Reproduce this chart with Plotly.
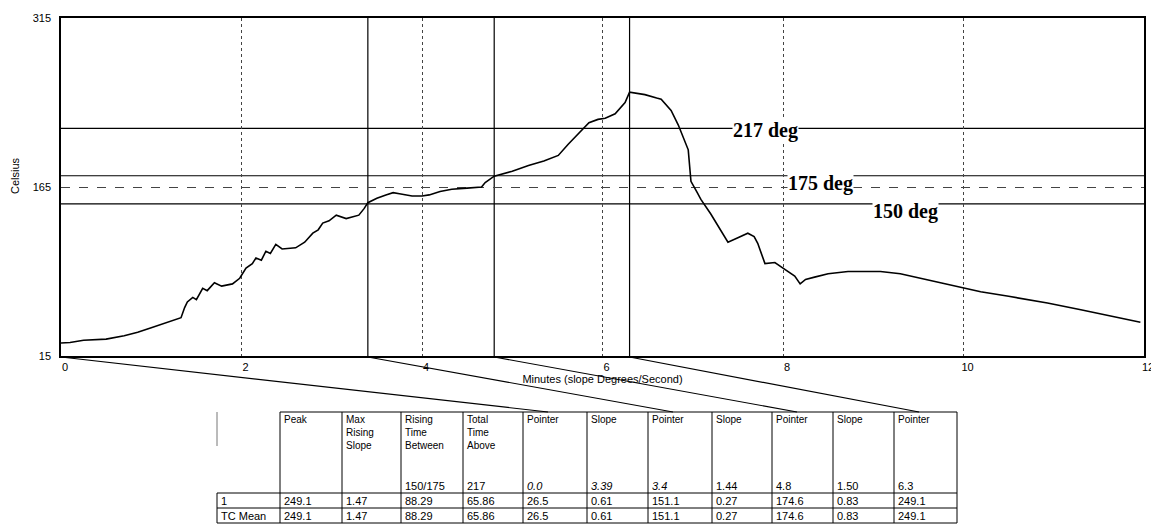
import plotly.graph_objects as go

# ---------------- data ----------------
minutes = [0.0, 0.1, 0.25, 0.5, 0.7, 0.85, 1.0, 1.15, 1.33, 1.37, 1.40, 1.46, 1.50, 1.57, 1.62,
           1.70, 1.78, 1.90, 1.98, 2.05, 2.12, 2.16, 2.22, 2.27, 2.32, 2.38, 2.45, 2.60, 2.70,
           2.79, 2.85, 2.90, 2.97, 3.05, 3.16, 3.30, 3.36, 3.40, 3.50, 3.60, 3.68, 3.75, 3.89,
           4.00, 4.08, 4.20, 4.33, 4.50, 4.66, 4.70, 4.80, 5.00, 5.18, 5.35, 5.51, 5.62, 5.73,
           5.85, 5.95, 6.03, 6.14, 6.25, 6.30, 6.47, 6.60, 6.65, 6.76, 6.84, 6.95, 6.98, 7.05,
           7.09, 7.20, 7.30, 7.39, 7.50, 7.61, 7.68, 7.72, 7.80, 7.91, 8.00, 8.13, 8.19, 8.25,
           8.35, 8.50, 8.72, 9.08, 9.30, 9.64, 10.00, 10.19, 10.50, 10.93, 11.30, 11.60, 11.96]
celsius = [26.5, 27, 29, 30, 33, 36, 40, 44, 49, 58, 63, 67, 65, 75, 73,
           80, 77, 79, 84, 93, 97, 102, 100, 108, 106, 114, 110, 111, 116,
           124, 127, 133, 135, 140, 137, 140, 146, 151.1, 155, 158, 160, 159, 157,
           157, 158, 161, 163, 164, 165, 169, 174.6, 179, 184, 188, 193, 203, 212,
           222, 225, 226, 230, 240, 249.1, 247, 244, 243, 233, 220, 198, 170, 160,
           154, 141, 128, 116, 120, 124, 121, 115, 97, 98, 93, 86, 79, 83,
           85, 88, 90, 90, 88, 82, 76, 72, 68, 62, 56, 51, 45]

threshold_values = [217, 175, 150]
threshold_labels = ["217 deg", "175 deg", "150 deg"]
threshold_label_x = [7.81, 8.42, 9.36]
threshold_label_y = [215.5, 168.5, 143.7]

pointer_minutes = [0.0, 3.4, 4.8, 6.3]

x_ticks = [0, 2, 4, 6, 8, 10, 12]
y_ticks = [15, 165, 315]

header_names = ["", "Peak", "Max<br>Rising<br>Slope", "Rising<br>Time<br>Between",
                "Total<br>Time<br>Above", "Pointer", "Slope", "Pointer", "Slope",
                "Pointer", "Slope", "Pointer"]
header_sub = ["", "", "", "150/175", "217", "<i>0.0</i>", "<i>3.39</i>", "<i>3.4</i>",
              "1.44", "4.8", "1.50", "6.3"]
row_labels = ["1", "TC Mean"]
row_1 = ["249.1", "1.47", "88.29", "65.86", "26.5", "0.61", "151.1", "0.27", "174.6", "0.83", "249.1"]
row_tc_mean = ["249.1", "1.47", "88.29", "65.86", "26.5", "0.61", "151.1", "0.27", "174.6", "0.83", "249.1"]
column_px = [63, 62, 59, 62, 60, 64, 61, 64, 60, 61, 61, 63]

# ---------------- layout (page pixels; the page body adds an 8px offset) ----------------
OFF = 8
W, H = 1159 - OFF, 524 - OFF


def pxx(px):
    return (px - OFF) / W


def pxy(py):
    return (H - (py - OFF)) / H


XD = [pxx(61), pxx(1144)]
YD = [pxy(356), pxy(18)]
X_RANGE = [0, 12]
Y_RANGE = [15, 315]
TABLE_LEFT, TABLE_TOP = 217, 412
ROW_EDGES = [412, 493, 508, 523]

fig = go.Figure()
fig.add_trace(go.Scatter(x=minutes, y=celsius, mode="lines",
                         line=dict(color="black", width=1.6), showlegend=False, hoverinfo="skip"))

shapes = []
for v in threshold_values:
    shapes.append(dict(type="line", xref="x", yref="y", x0=X_RANGE[0], x1=X_RANGE[1], y0=v, y1=v,
                       line=dict(color="black", width=1.2), layer="below"))
for m in pointer_minutes[1:]:
    shapes.append(dict(type="line", xref="x", yref="y", x0=m, x1=m, y0=Y_RANGE[0], y1=Y_RANGE[1],
                       line=dict(color="black", width=1.2), layer="below"))

col_edges = [TABLE_LEFT]
for w in column_px:
    col_edges.append(col_edges[-1] + w)

# connector lines from the pointer times on the axis to the table's pointer columns
pointer_cols = [i for i, n in enumerate(header_names) if n == "Pointer"]
for m, ci in zip(pointer_minutes, pointer_cols):
    x0 = XD[0] + (m - X_RANGE[0]) / (X_RANGE[1] - X_RANGE[0]) * (XD[1] - XD[0])
    shapes.append(dict(type="line", xref="paper", yref="paper", x0=x0, y0=YD[0] - 1 / H,
                       x1=pxx(col_edges[ci] + 25), y1=pxy(TABLE_TOP),
                       line=dict(color="black", width=1.2)))

# table grid
LW = dict(color="black", width=1)
shapes.append(dict(type="line", xref="paper", yref="paper", x0=pxx(col_edges[1]), x1=pxx(col_edges[-1]),
                   y0=pxy(ROW_EDGES[0]), y1=pxy(ROW_EDGES[0]), line=LW))
for ry in ROW_EDGES[1:]:
    shapes.append(dict(type="line", xref="paper", yref="paper", x0=pxx(col_edges[0]), x1=pxx(col_edges[-1]),
                       y0=pxy(ry), y1=pxy(ry), line=LW))
for i, cx in enumerate(col_edges):
    shapes.append(dict(type="line", xref="paper", yref="paper", x0=pxx(cx), x1=pxx(cx),
                       y0=pxy(ROW_EDGES[0] if i > 0 else ROW_EDGES[1]), y1=pxy(ROW_EDGES[-1]), line=LW))
shapes.append(dict(type="line", xref="paper", yref="paper", x0=pxx(col_edges[0]), x1=pxx(col_edges[0]),
                   y0=pxy(ROW_EDGES[0]), y1=pxy(ROW_EDGES[0] + 34), line=dict(color="#777", width=1)))

annotations = []
for lab, lx, ly in zip(threshold_labels, threshold_label_x, threshold_label_y):
    annotations.append(dict(x=lx, y=ly, xref="x", yref="y", text="<b>" + lab + "</b>", showarrow=False,
                            bgcolor="white", borderpad=0,
                            font=dict(family="Liberation Serif", size=20, color="black")))

annotations.append(dict(x=pxx(15), y=pxy(176), xref="paper", yref="paper", text="Celsius",
                        textangle=-90, showarrow=False, xanchor="center", yanchor="middle",
                        font=dict(family="Arial", size=11, color="black")))


def cell_text(txt, ci, py, size=11, yanchor="middle"):
    annotations.append(dict(x=pxx(col_edges[ci] + 3), y=pxy(py), xref="paper", yref="paper",
                            text=txt, showarrow=False, xanchor="left", yanchor=yanchor, align="left",
                            borderpad=0, font=dict(family="Arial", size=size, color="black")))


for ci, (names, sub) in enumerate(zip(header_names, header_sub)):
    if names:
        cell_text(names, ci, 413, size=10, yanchor="top")
    if sub:
        cell_text(sub, ci, 486)
for ri, row in enumerate([[row_labels[0]] + row_1, [row_labels[1]] + row_tc_mean]):
    for ci, v in enumerate(row):
        cell_text(v, ci, (ROW_EDGES[ri + 1] + ROW_EDGES[ri + 2]) / 2)

fig.update_layout(
    width=W, height=H, margin=dict(l=0, r=0, t=0, b=0),
    paper_bgcolor="white", plot_bgcolor="white",
    shapes=shapes, annotations=annotations, showlegend=False,
    xaxis=dict(domain=XD, range=X_RANGE, tickvals=x_ticks, showgrid=True, griddash="dot",
               gridcolor="#444", gridwidth=1, zeroline=False, showline=True, linecolor="black",
               linewidth=1.5, mirror=True, ticks="", automargin=False, ticklabelshift=4,
               tickfont=dict(family="Arial", size=11, color="black"),
               title=dict(text="Minutes (slope Degrees/Second)", standoff=2,
                          font=dict(family="Arial", size=11, color="black"))),
    yaxis=dict(domain=YD, range=Y_RANGE, tickvals=y_ticks, showgrid=True, griddash="dash",
               gridcolor="#444", gridwidth=1, zeroline=False, showline=True, linecolor="black",
               linewidth=1.5, mirror=True, ticks="", automargin=False, ticklabelstandoff=6,
               tickfont=dict(family="Arial", size=11, color="black")),
)

fig.write_html("out.html")
